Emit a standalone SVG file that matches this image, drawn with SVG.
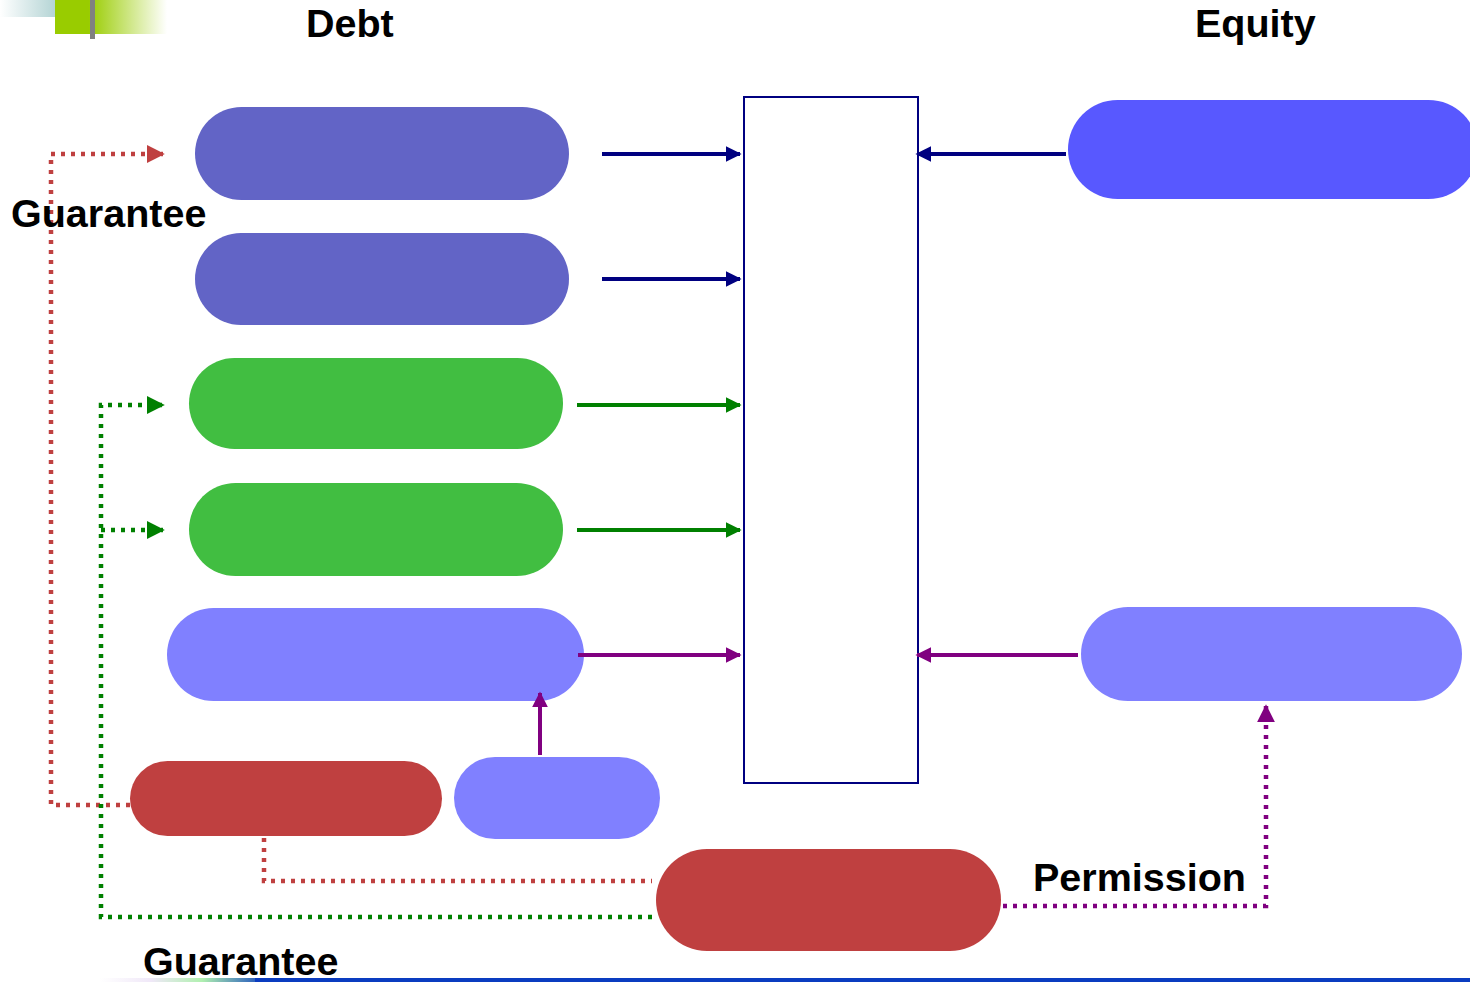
<svg xmlns="http://www.w3.org/2000/svg" width="1470" height="982" viewBox="0 0 1470 982">
<style>
.lbl{font-family:"Liberation Sans",Arial,sans-serif;font-weight:bold;font-size:39.5px;fill:#000}
.sol{fill:none;stroke-width:4}
.dot{fill:none;stroke-width:4.5;stroke-dasharray:4 6}
</style>
<defs>
<linearGradient id="gTeal" x1="0" y1="0" x2="1" y2="0"><stop offset="0" stop-color="#ffffff"/><stop offset="1" stop-color="#8fbfc0"/></linearGradient>
<linearGradient id="gGreen" x1="0" y1="0" x2="1" y2="0"><stop offset="0" stop-color="#99cc00"/><stop offset="0.3" stop-color="#99cc00"/><stop offset="1" stop-color="#99cc00" stop-opacity="0"/></linearGradient>
<linearGradient id="gBlue" x1="0" y1="0" x2="1" y2="0"><stop offset="0" stop-color="#ffffff"/><stop offset="0.3" stop-color="#f0e8f8"/><stop offset="0.6" stop-color="#b0f0b0"/><stop offset="1" stop-color="#0a3cc0"/></linearGradient>
<marker id="aNavy" viewBox="0 0 10 10" refX="9" refY="5" markerWidth="4" markerHeight="4" orient="auto" markerUnits="strokeWidth"><path d="M0,0L10,5L0,10z" fill="#000080"/></marker>
<marker id="aGreen" viewBox="0 0 10 10" refX="9" refY="5" markerWidth="4" markerHeight="4" orient="auto" markerUnits="strokeWidth"><path d="M0,0L10,5L0,10z" fill="#008000"/></marker>
<marker id="aPurple" viewBox="0 0 10 10" refX="9" refY="5" markerWidth="4" markerHeight="4" orient="auto" markerUnits="strokeWidth"><path d="M0,0L10,5L0,10z" fill="#800080"/></marker>
<marker id="aRed" viewBox="0 0 10 10" refX="9" refY="5" markerWidth="4" markerHeight="4" orient="auto" markerUnits="strokeWidth"><path d="M0,0L10,5L0,10z" fill="#bf4040"/></marker>
</defs>
<rect width="1470" height="982" fill="#ffffff"/>
<g id="decor">
<rect x="0" y="0" width="83" height="17" fill="url(#gTeal)"/>
<rect x="55" y="0" width="112" height="34" fill="url(#gGreen)"/>
<rect x="90" y="0" width="5" height="39" fill="#808080"/>
<rect x="100" y="978" width="170" height="4" fill="url(#gBlue)"/>
<rect x="255" y="978" width="1215" height="4" fill="#0a3cc0"/>
</g>
<g id="titles">
<text class="lbl" x="306" y="37">Debt</text>
<text class="lbl" x="1195" y="37">Equity</text>
</g>
<g id="center"><rect x="744" y="97" width="174" height="686" fill="#ffffff" stroke="#000080" stroke-width="2"/></g>
<g id="debt1"><rect x="195" y="107" width="374" height="93" rx="46.5" fill="#6264c6"/></g>
<g id="debt2"><rect x="195" y="233" width="374" height="92" rx="46" fill="#6264c6"/></g>
<g id="debt3"><rect x="189" y="358" width="374" height="91" rx="45.5" fill="#41be41"/></g>
<g id="debt4"><rect x="189" y="483" width="374" height="93" rx="46.5" fill="#41be41"/></g>
<g id="debt5"><rect x="167" y="608" width="417" height="93" rx="46.5" fill="#8080ff"/></g>
<g id="red1"><rect x="130" y="761" width="312" height="75" rx="37.5" fill="#bf4040"/></g>
<g id="small"><rect x="454" y="757" width="206" height="82" rx="41" fill="#8080ff"/></g>
<g id="red2"><rect x="656" y="849" width="345" height="102" rx="51" fill="#bf4040"/></g>
<g id="eq1"><rect x="1068" y="100" width="410" height="99" rx="49.5" fill="#5858ff"/></g>
<g id="eq2"><rect x="1081" y="607" width="381" height="94" rx="47" fill="#8080ff"/></g>
<g id="connectors">
<line class="sol" x1="602" y1="154" x2="740" y2="154" stroke="#000080" marker-end="url(#aNavy)"/>
<line class="sol" x1="602" y1="279" x2="740" y2="279" stroke="#000080" marker-end="url(#aNavy)"/>
<line class="sol" x1="577" y1="405" x2="740" y2="405" stroke="#008000" marker-end="url(#aGreen)"/>
<line class="sol" x1="577" y1="530" x2="740" y2="530" stroke="#008000" marker-end="url(#aGreen)"/>
<line class="sol" x1="578" y1="655" x2="740" y2="655" stroke="#800080" marker-end="url(#aPurple)"/>
<line class="sol" x1="1066" y1="154" x2="917" y2="154" stroke="#000080" marker-end="url(#aNavy)"/>
<line class="sol" x1="1078" y1="655" x2="917" y2="655" stroke="#800080" marker-end="url(#aPurple)"/>
<line class="sol" x1="540" y1="755" x2="540" y2="693" stroke="#800080" marker-end="url(#aPurple)"/>
<polyline class="dot" points="130,805 51,805 51,154 163,154" stroke="#bf4040" marker-end="url(#aRed)"/>
<polyline class="dot" points="264,838 264,881 652,881" stroke="#bf4040"/>
<polyline class="dot" points="652,917 101,917 101,405 163,405" stroke="#008000" marker-end="url(#aGreen)"/>
<polyline class="dot" points="101,530 163,530" stroke="#008000" marker-end="url(#aGreen)"/>
<polyline class="dot" points="1003,906 1266,906 1266,706" stroke="#800080" marker-end="url(#aPurple)"/>
</g>
<g id="labels">
<text class="lbl" x="11" y="227">Guarantee</text>
<text class="lbl" x="143" y="975">Guarantee</text>
<text class="lbl" x="1033" y="891">Permission</text>
</g>
</svg>
